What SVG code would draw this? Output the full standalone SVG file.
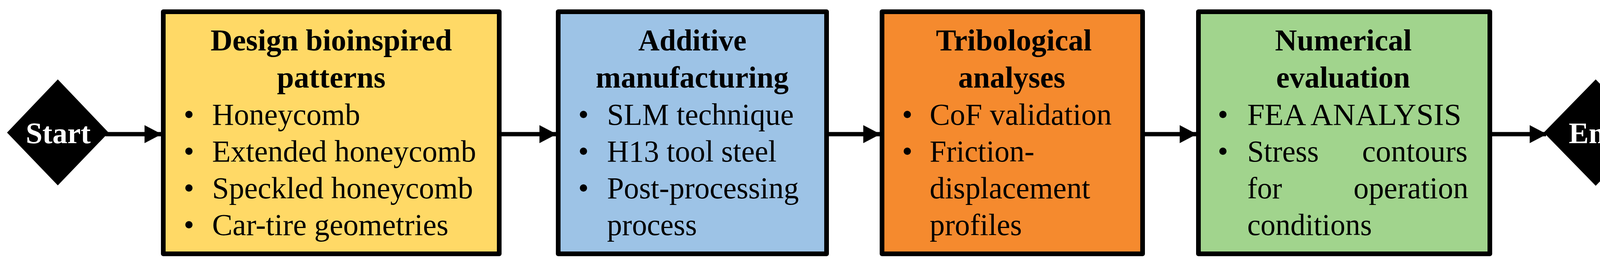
<svg xmlns="http://www.w3.org/2000/svg" width="4233" height="675" viewBox="0 0 4233 675">
<defs>
<style>
.box{stroke:#000;stroke-width:12;stroke-linejoin:round}
.t{font-family:"Liberation Serif","Times New Roman","DejaVu Serif",serif;font-weight:bold;font-size:78px;fill:#000}
.i{font-family:"Liberation Serif","Times New Roman","DejaVu Serif",serif;font-size:78px;fill:#000}
.w{font-family:"Liberation Serif","Times New Roman","DejaVu Serif",serif;font-weight:bold;font-size:76px;fill:#fff}
.c{stroke:#000;stroke-width:11;fill:none}
</style>
<marker id="ah" markerUnits="userSpaceOnUse" markerWidth="44" markerHeight="46" refX="42" refY="23" orient="auto"><path d="M0,0 L44,23 L0,46 Z" fill="#000"/></marker>
</defs>
<rect width="4233" height="675" fill="#fff"/>
<g id="connectors">
<line class="c" x1="270" y1="343" x2="412" y2="343" marker-end="url(#ah)"/>
<line class="c" x1="1284" y1="343" x2="1423" y2="343" marker-end="url(#ah)"/>
<line class="c" x1="2122" y1="343" x2="2252" y2="343" marker-end="url(#ah)"/>
<line class="c" x1="2931" y1="343" x2="3062" y2="343" marker-end="url(#ah)"/>
<line class="c" x1="3818" y1="343" x2="3958" y2="343" marker-end="url(#ah)"/>
</g>
<g id="start">
<polygon points="18,339 148,203 278,339 148,474" fill="#000"/>
<text class="w" x="66" y="366" textLength="166" lengthAdjust="spacingAndGlyphs">Start</text>
</g>
<g id="box1">
<rect class="box" x="418" y="30" width="860" height="619" fill="#FFD966"/>
<text class="t" x="539" y="129" textLength="618" lengthAdjust="spacingAndGlyphs">Design bioinspired</text>
<text class="t" x="709" y="224" textLength="278" lengthAdjust="spacingAndGlyphs">patterns</text>
<text class="i" x="470" y="319">•</text><text class="i" x="543" y="319" textLength="379" lengthAdjust="spacingAndGlyphs">Honeycomb</text>
<text class="i" x="470" y="413">•</text><text class="i" x="543" y="413" textLength="676" lengthAdjust="spacingAndGlyphs">Extended honeycomb</text>
<text class="i" x="470" y="507">•</text><text class="i" x="543" y="507" textLength="668" lengthAdjust="spacingAndGlyphs">Speckled honeycomb</text>
<text class="i" x="470" y="601">•</text><text class="i" x="543" y="601" textLength="605" lengthAdjust="spacingAndGlyphs">Car-tire geometries</text>
</g>
<g id="box2">
<rect class="box" x="1429" y="30" width="687" height="619" fill="#9DC3E6"/>
<text class="t" x="1634" y="129" textLength="277" lengthAdjust="spacingAndGlyphs">Additive</text>
<text class="t" x="1525" y="224" textLength="494" lengthAdjust="spacingAndGlyphs">manufacturing</text>
<text class="i" x="1480" y="319">•</text><text class="i" x="1554" y="319" textLength="478" lengthAdjust="spacingAndGlyphs">SLM technique</text>
<text class="i" x="1480" y="413">•</text><text class="i" x="1554" y="413" textLength="434" lengthAdjust="spacingAndGlyphs">H13 tool steel</text>
<text class="i" x="1480" y="507">•</text><text class="i" x="1554" y="507" textLength="491" lengthAdjust="spacingAndGlyphs">Post-processing</text>
<text class="i" x="1554" y="601" textLength="230" lengthAdjust="spacingAndGlyphs">process</text>
</g>
<g id="box3">
<rect class="box" x="2258" y="30" width="667" height="619" fill="#F58A2E"/>
<text class="t" x="2396" y="129" textLength="399" lengthAdjust="spacingAndGlyphs">Tribological</text>
<text class="t" x="2453" y="224" textLength="274" lengthAdjust="spacingAndGlyphs">analyses</text>
<text class="i" x="2309" y="319">•</text><text class="i" x="2380" y="319" textLength="466" lengthAdjust="spacingAndGlyphs">CoF validation</text>
<text class="i" x="2309" y="413">•</text><text class="i" x="2380" y="413" textLength="268" lengthAdjust="spacingAndGlyphs">Friction-</text>
<text class="i" x="2380" y="507" textLength="411" lengthAdjust="spacingAndGlyphs">displacement</text>
<text class="i" x="2380" y="601" textLength="236" lengthAdjust="spacingAndGlyphs">profiles</text>
</g>
<g id="box4">
<rect class="box" x="3068" y="30" width="746" height="619" fill="#A1D48D"/>
<text class="t" x="3264" y="129" textLength="350" lengthAdjust="spacingAndGlyphs">Numerical</text>
<text class="t" x="3267" y="224" textLength="343" lengthAdjust="spacingAndGlyphs">evaluation</text>
<text class="i" x="3117" y="319">•</text><text class="i" x="3193" y="319" textLength="548" lengthAdjust="spacingAndGlyphs">FEA ANALYSIS</text>
<text class="i" x="3117" y="413">•</text><text class="i" x="3193" y="413" textLength="183" lengthAdjust="spacingAndGlyphs">Stress</text>
<text class="i" x="3487" y="413" textLength="270" lengthAdjust="spacingAndGlyphs">contours</text>
<text class="i" x="3193" y="507" textLength="89" lengthAdjust="spacingAndGlyphs">for</text>
<text class="i" x="3465" y="507" textLength="294" lengthAdjust="spacingAndGlyphs">operation</text>
<text class="i" x="3193" y="601" textLength="319" lengthAdjust="spacingAndGlyphs">conditions</text>
</g>
<g id="end">
<polygon points="3952,339 4085,203 4218,339 4085,475" fill="#000"/>
<text class="w" x="4016" y="366" textLength="136" lengthAdjust="spacingAndGlyphs">End</text>
</g>
</svg>
